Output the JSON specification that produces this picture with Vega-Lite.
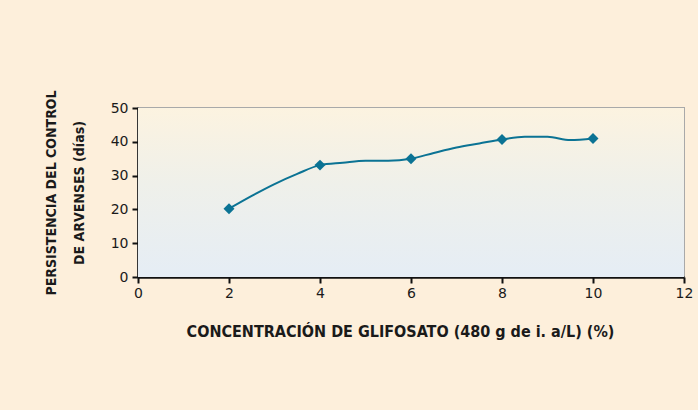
{
  "$schema": "https://vega.github.io/schema/vega-lite/v6.json",
  "width": 546,
  "height": 169,
  "autosize": {"type": "none"},
  "padding": {"left": 138, "top": 108, "right": 14, "bottom": 133},
  "background": "#fdefdb",
  "config": {
    "view": {"stroke": "#a9a9a9", "strokeWidth": 2},
    "font": "DejaVu Sans",
    "axis": {
      "grid": false,
      "domainColor": "#111111",
      "domainWidth": 2.5,
      "tickColor": "#111111",
      "tickWidth": 2,
      "tickSize": 6,
      "labelFont": "DejaVu Sans",
      "labelFontSize": 14,
      "labelColor": "#1a1a1a",
      "labelOverlap": false,
      "labelFlush": false,
      "titleFont": "DejaVu Sans Condensed",
      "titleFontWeight": "bold",
      "titleColor": "#1a1a1a"
    },
    "axisX": {"titleFontSize": 16, "titlePadding": 23, "labelPadding": 3, "titleX": 262},
    "axisY": {"titleFontSize": 14, "titleLineHeight": 28, "titlePadding": 24, "labelPadding": 4}
  },
  "datasets": {
    "curva": [
      {"concentracion": 2, "persistencia": 20.2},
      {"concentracion": 2.5, "persistencia": 24.0},
      {"concentracion": 3, "persistencia": 27.5},
      {"concentracion": 3.5, "persistencia": 30.5},
      {"concentracion": 4, "persistencia": 33.1},
      {"concentracion": 4.5, "persistencia": 33.8},
      {"concentracion": 5, "persistencia": 34.4},
      {"concentracion": 5.5, "persistencia": 34.4},
      {"concentracion": 6, "persistencia": 35.0},
      {"concentracion": 6.5, "persistencia": 36.7},
      {"concentracion": 7, "persistencia": 38.3},
      {"concentracion": 7.5, "persistencia": 39.5},
      {"concentracion": 8, "persistencia": 40.7},
      {"concentracion": 8.5, "persistencia": 41.5},
      {"concentracion": 9, "persistencia": 41.5},
      {"concentracion": 9.5, "persistencia": 40.5},
      {"concentracion": 10, "persistencia": 41.0}
    ],
    "medidas": [
      {"concentracion": 2, "persistencia": 20.2},
      {"concentracion": 4, "persistencia": 33.1},
      {"concentracion": 6, "persistencia": 35.0},
      {"concentracion": 8, "persistencia": 40.7},
      {"concentracion": 10, "persistencia": 41.0}
    ]
  },
  "layer": [
    {
      "data": {"values": [{"x0": 0, "x1": 12, "y0": 0, "y1": 50}]},
      "mark": {
        "type": "rect",
        "color": {
          "gradient": "linear",
          "x1": 0, "y1": 0, "x2": 0, "y2": 1,
          "stops": [
            {"offset": 0, "color": "#fcf3e0"},
            {"offset": 0.45, "color": "#eff0ea"},
            {"offset": 1, "color": "#e5edf5"}
          ]
        }
      },
      "encoding": {
        "x": {"field": "x0", "type": "quantitative", "scale": {"domain": [0, 12]},
          "axis": {"values": [0, 2, 4, 6, 8, 10, 12], "title": "CONCENTRACIÓN DE GLIFOSATO (480 g de i. a/L)  (%)"}},
        "x2": {"field": "x1"},
        "y": {"field": "y0", "type": "quantitative", "scale": {"domain": [0, 50]},
          "axis": {"values": [0, 10, 20, 30, 40, 50], "title": ["PERSISTENCIA DEL CONTROL", "DE ARVENSES (días)"]}},
        "y2": {"field": "y1"}
      }
    },
    {
      "data": {"name": "curva"},
      "mark": {"type": "line", "interpolate": "monotone", "color": "#0b7394", "strokeWidth": 2},
      "encoding": {
        "x": {"field": "concentracion", "type": "quantitative",
          "axis": {"values": [0, 2, 4, 6, 8, 10, 12], "title": "CONCENTRACIÓN DE GLIFOSATO (480 g de i. a/L)  (%)"}},
        "y": {"field": "persistencia", "type": "quantitative",
          "axis": {"values": [0, 10, 20, 30, 40, 50], "title": ["PERSISTENCIA DEL CONTROL", "DE ARVENSES (días)"]}}
      }
    },
    {
      "data": {"name": "medidas"},
      "mark": {"type": "point", "shape": "diamond", "filled": true, "size": 120, "color": "#0b7394", "opacity": 1},
      "encoding": {
        "x": {"field": "concentracion", "type": "quantitative",
          "axis": {"values": [0, 2, 4, 6, 8, 10, 12], "title": "CONCENTRACIÓN DE GLIFOSATO (480 g de i. a/L)  (%)"}},
        "y": {"field": "persistencia", "type": "quantitative",
          "axis": {"values": [0, 10, 20, 30, 40, 50], "title": ["PERSISTENCIA DEL CONTROL", "DE ARVENSES (días)"]}}
      }
    }
  ]
}
